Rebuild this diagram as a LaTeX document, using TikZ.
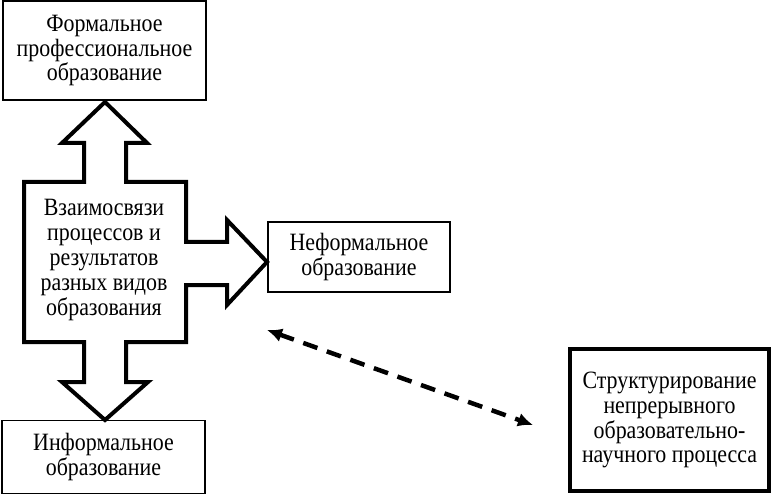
\documentclass[tikz,border=0pt]{standalone}
\usepackage{fontspec}
\setmainfont{Liberation Serif}[FakeStretch=0.88]
\usetikzlibrary{arrows.meta}

\begin{document}
\begin{tikzpicture}[x=1bp,y=-1bp,
  every node/.style={align=center,font=\fontsize{25}{25}\selectfont,inner sep=0pt},
  box/.style={draw,line width=1.5bp}]
\useasboundingbox (0,0) rectangle (775,495);
\node[box,minimum width=203bp,minimum height=99bp] (formal) at (104.5,50.5) {Формальное\\ профессиональное\\ образование};
\node[box,minimum width=182bp,minimum height=70bp] (neformal) at (359,257) {Неформальное\\ образование};
\node[box,minimum width=203bp,minimum height=73bp] (informal) at (103.5,457) {Информальное\\ образование};
\node[draw,line width=4bp,minimum width=199bp,minimum height=142bp] (struct) at (669.5,420) {Структурирование\\ непрерывного\\ образовательно-\\ научного процесса};
\node (links) at (104,260) {Взаимосвязи\\ процессов и\\ результатов\\ разных видов\\ образования};

% cross-shaped arrow
\draw[line width=4bp,miter limit=10] (105,102) -- (147,143) -- (126,143) -- (126,182) -- (186,182) -- (186,242) -- (227,242) -- (227,220) -- (267,262) -- (227,305) -- (227,285) -- (186,285) -- (186,342) -- (126,342) -- (126,382) -- (148,382) -- (105,420) -- (62,382) -- (84,382) -- (84,342) -- (24,342) -- (24,182) -- (84,182) -- (84,143) -- (62,143) -- cycle;

\coordinate (dl) at (267,330); \coordinate (dr) at (533,425);
\draw[line width=4.5bp,dash pattern=on 15bp off 10bp,{Latex[length=15bp,width=14bp]}-{Latex[length=15bp,width=14bp]}] (dl) -- (dr);
\end{tikzpicture}
\end{document}
